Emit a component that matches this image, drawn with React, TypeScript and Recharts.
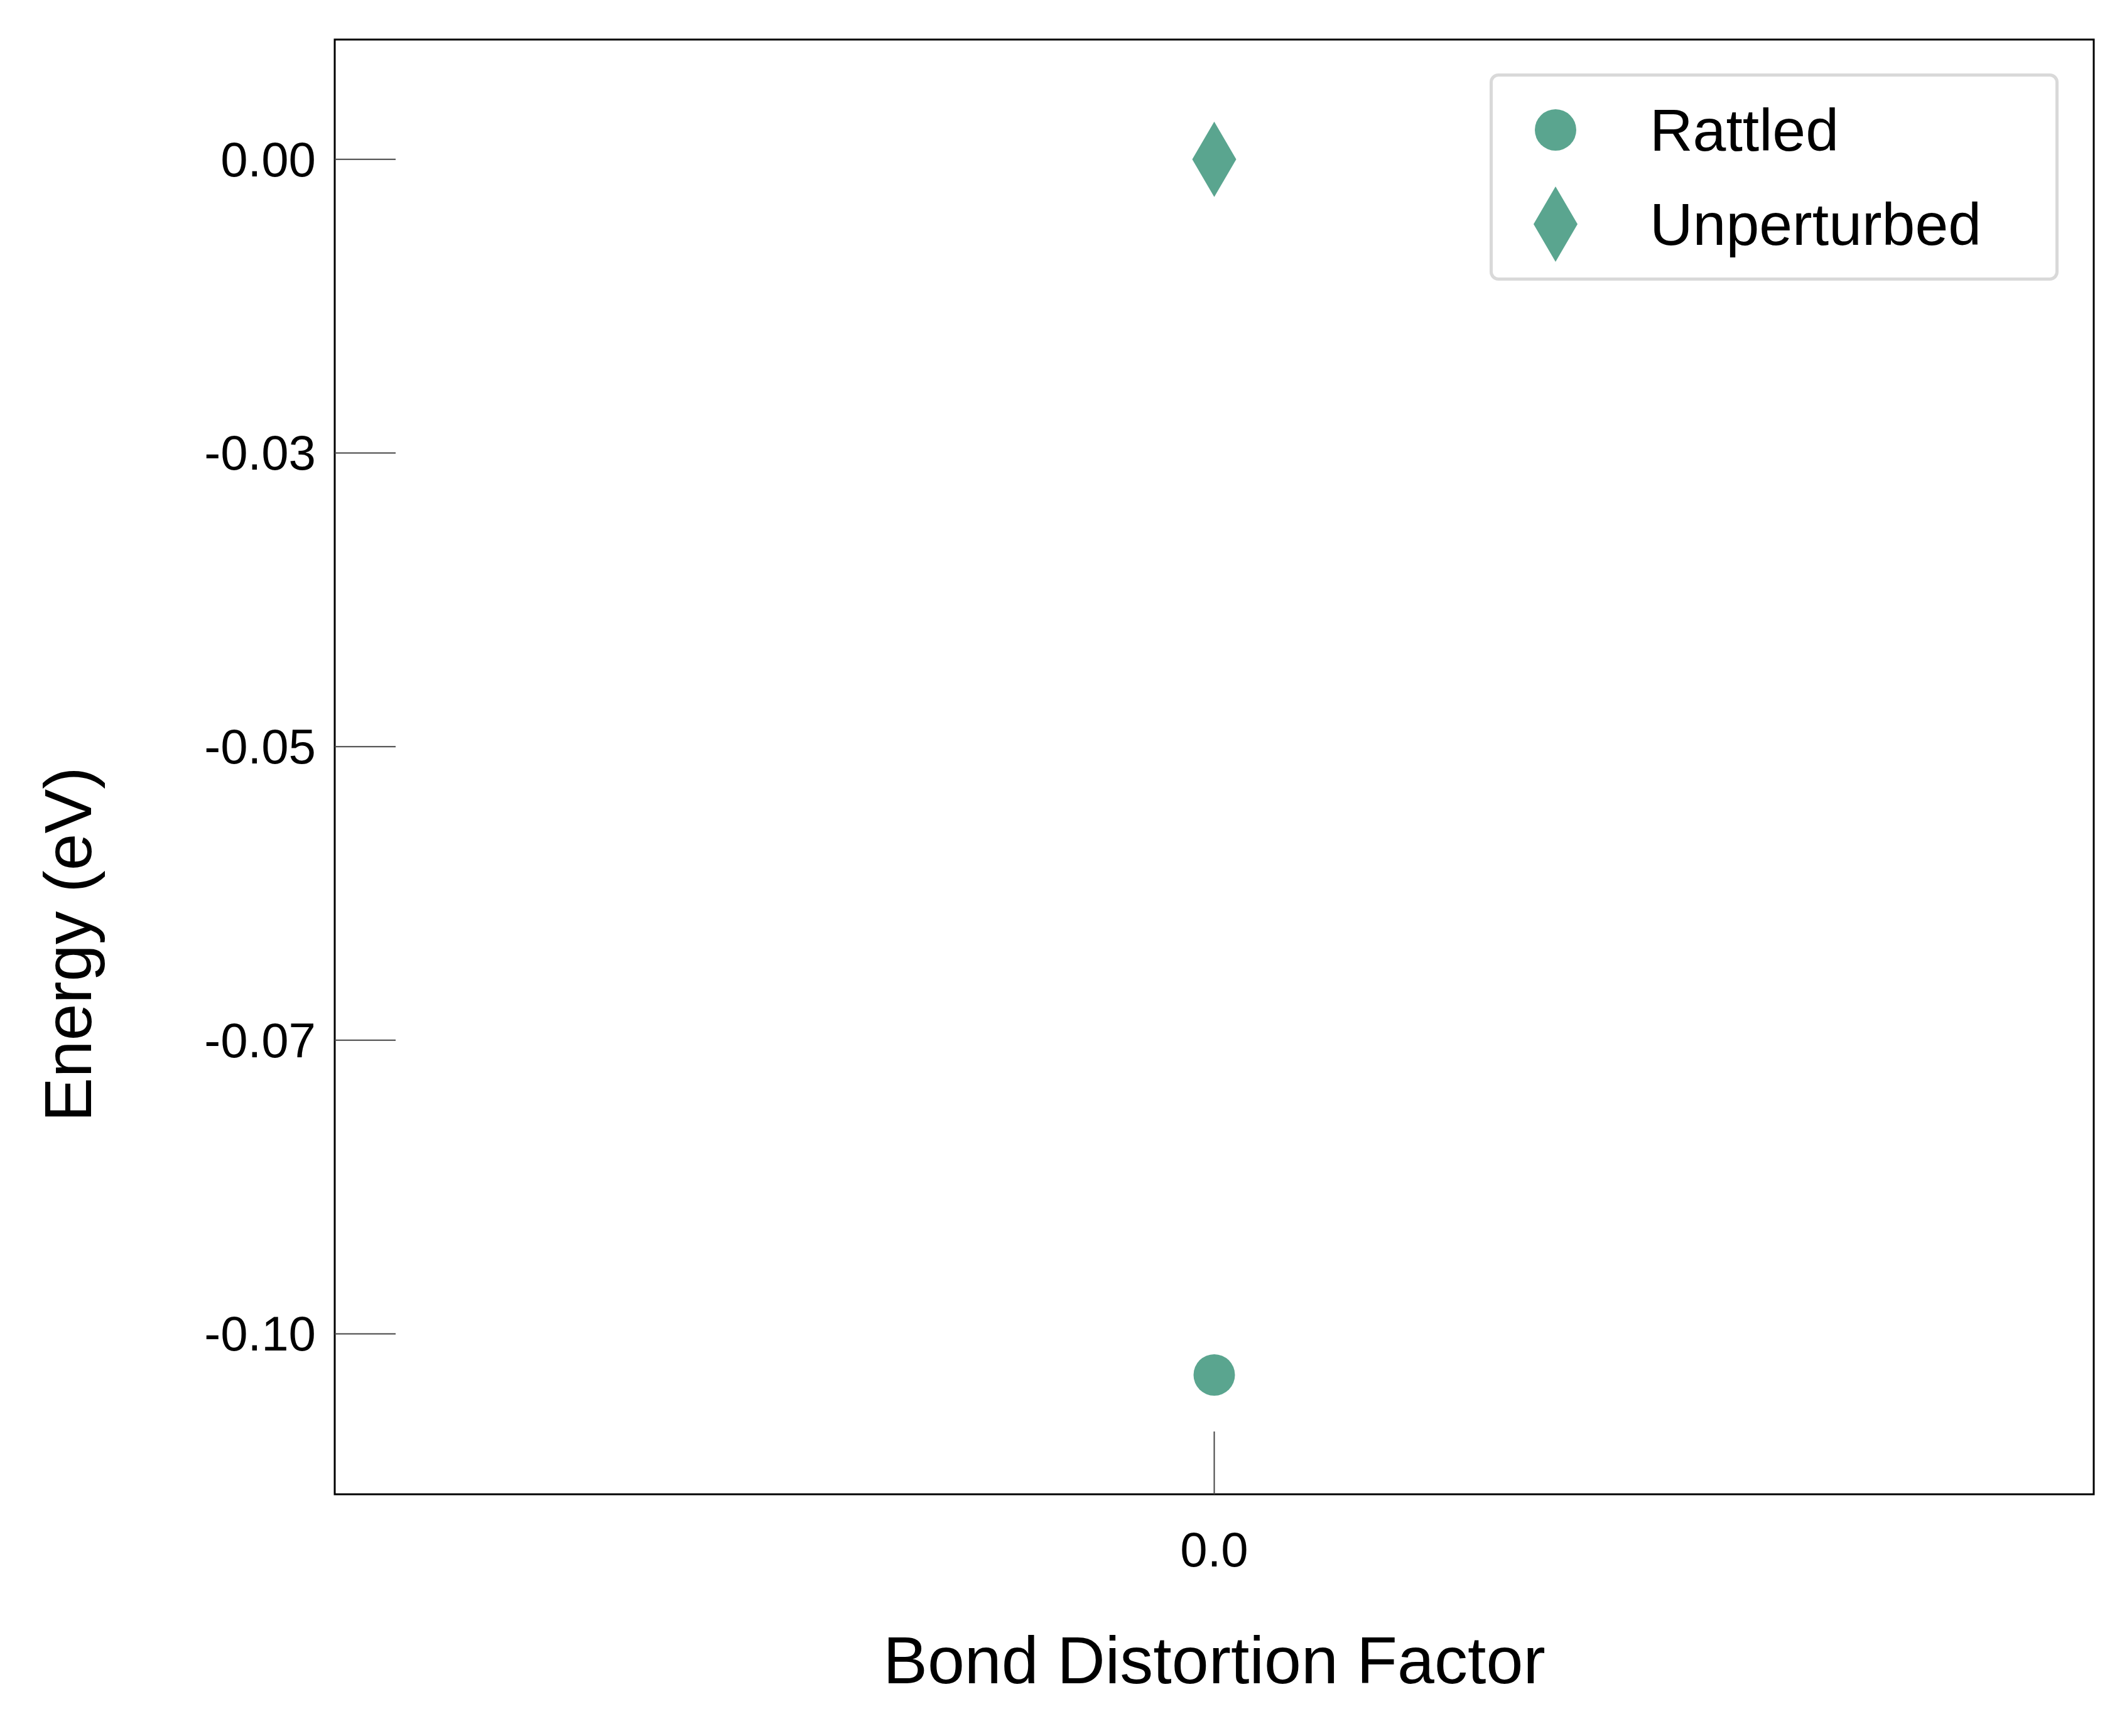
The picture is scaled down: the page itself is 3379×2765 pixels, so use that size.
import { ScatterChart, Scatter, XAxis, YAxis, ReferenceArea } from "recharts";

const rattled = [{ x: 0, y: -0.1035 }];
const unperturbed = [{ x: 0, y: 0 }];
const yTicks = [0, -0.025, -0.05, -0.075, -0.1];
const xTicks = [0];
const COLOR = "#5aa58f";
const FONT = "Liberation Sans, Arial, sans-serif";
const Y_DOMAIN: [number, number] = [-0.11366, 0.0102];

const circleShape = (p: any) => <circle cx={p.cx} cy={p.cy} r={33} fill={COLOR} />;
const diamondShape = (p: any) => (
  <polygon points={`${p.cx},${p.cy - 60} ${p.cx + 35},${p.cy} ${p.cx},${p.cy + 60} ${p.cx - 35},${p.cy}`} fill={COLOR} />
);

const YTick = (p: any) => (
  <g>
    <line x1={p.x} x2={p.x + 97} y1={p.y} y2={p.y} stroke="#444" strokeWidth={2} />
    <text x={p.x - 30} y={p.y} textAnchor="end" dominantBaseline="central" fontSize={78} fontFamily={FONT} fill="#000">
      {p.payload.value.toFixed(2)}
    </text>
  </g>
);

const XTick = (p: any) => (
  <g>
    <line x1={p.x} x2={p.x} y1={p.y} y2={p.y - 100} stroke="#444" strokeWidth={2} />
    <text x={p.x} y={p.y + 115} textAnchor="middle" fontSize={78} fontFamily={FONT} fill="#000">
      {p.payload.value.toFixed(1)}
    </text>
  </g>
);

function LegendBox() {
  const row = { display: "flex", alignItems: "center", height: 150 } as const;
  return (
    <div style={{ position: "absolute", left: 2372, top: 117, width: 906, height: 330, boxSizing: "border-box", border: "5px solid #d9d9d9", borderRadius: 14, background: "#fff", padding: "0 0 0 60px", fontFamily: FONT, fontSize: 95, display: "flex", flexDirection: "column", justifyContent: "center" }}>
      <div style={row}>
        <svg width={80} height={130}><circle cx={40} cy={65} r={33} fill={COLOR} /></svg>
        <span style={{ marginLeft: 110 }}>Rattled</span>
      </div>
      <div style={row}>
        <svg width={80} height={130}><polygon points="40,5 75,65 40,125 5,65" fill={COLOR} /></svg>
        <span style={{ marginLeft: 110 }}>Unperturbed</span>
      </div>
    </div>
  );
}

export default function App() {
  return (
    <div style={{ position: "fixed", left: 0, top: 0, width: 3379, height: 2765, background: "#fff" }}>
      <ScatterChart width={3379} height={2765} margin={{ top: 63, left: 532, right: 45, bottom: 384 }}>
        <XAxis type="number" dataKey="x" domain={[-1, 1]} ticks={xTicks} height={1} tickSize={0} tickMargin={0}
          axisLine={false} tick={XTick}
          label={{ value: "Bond Distortion Factor", position: "bottom", offset: 225, fontSize: 106, fontFamily: FONT, fill: "#000" }} />
        <YAxis type="number" dataKey="y" domain={Y_DOMAIN} ticks={yTicks} width={1} tickSize={0} tickMargin={0}
          axisLine={false} tick={YTick} allowDataOverflow
          label={{ value: "Energy (eV)", angle: -90, position: "left", offset: 425, fontSize: 106, fontFamily: FONT, fill: "#000" }} />
        <ReferenceArea x1={-1} x2={1} y1={Y_DOMAIN[0]} y2={Y_DOMAIN[1]} fill="none" stroke="#000" strokeWidth={3} fillOpacity={0} ifOverflow="visible" />
        <Scatter name="Rattled" data={rattled} shape={circleShape} isAnimationActive={false} />
        <Scatter name="Unperturbed" data={unperturbed} shape={diamondShape} isAnimationActive={false} />
      </ScatterChart>
      <LegendBox />
    </div>
  );
}
